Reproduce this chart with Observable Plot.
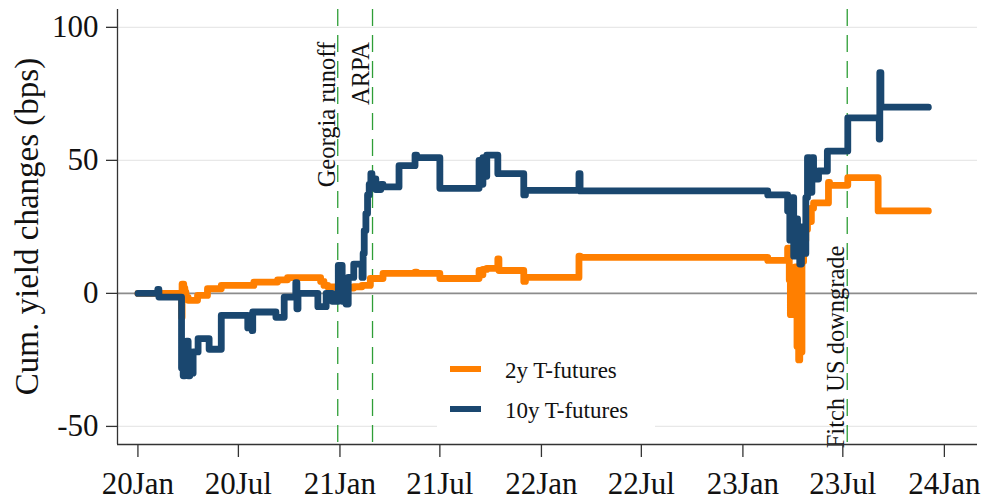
<!DOCTYPE html>
<html>
<head>
<meta charset="utf-8">
<script src="https://cdn.jsdelivr.net/npm/d3@7"></script>
<script src="https://cdn.jsdelivr.net/npm/@observablehq/plot@0.6"></script>
<style>
  html, body { margin: 0; padding: 0; background: #fff; }
  #wrap { position: relative; width: 983px; height: 500px; font-family: "Liberation Serif", serif; overflow: hidden; }
  #legend { position: absolute; left: 437px; top: 346px; width: 218px; height: 83px; background: #fff; }
  .sw { position: absolute; left: 13px; width: 31px; height: 6px; }
  .lt { position: absolute; left: 68px; font-size: 23px; line-height: 23px; color: #111; white-space: nowrap; }
  #ylabel { position: absolute; left: -173px; top: 210px; width: 400px; height: 33px; line-height: 33px;
            font-size: 33px; text-align: center; color: #111; transform: rotate(-90deg); white-space: nowrap; }
</style>
</head>
<body>
<div id="wrap"></div>
<script>
// ---- data ----
const seriesNames = ["2y T-futures", "10y T-futures"];
const seriesColors = ["#ff7f00", "#1a476f"];

const dates2y = [
  "2020-01-01","2020-03-20","2020-03-21","2020-03-24","2020-03-26","2020-03-28","2020-04-01","2020-04-18",
  "2020-05-06","2020-05-31","2020-07-29","2020-09-10","2020-09-28","2020-11-27","2020-12-03","2020-12-10",
  "2020-12-28","2021-01-15","2021-01-26","2021-02-10","2021-02-25","2021-03-20","2021-05-17","2021-05-20",
  "2021-07-01","2021-09-10","2021-09-14","2021-09-17","2021-09-24","2021-10-14","2021-10-16","2021-11-30",
  "2021-12-03","2022-03-10","2022-03-12","2023-02-15","2023-03-23","2023-03-26","2023-03-28","2023-03-31",
  "2023-04-03","2023-04-06","2023-04-09","2023-04-12","2023-04-14","2023-04-16","2023-04-18","2023-04-21",
  "2023-04-25","2023-04-28","2023-05-02","2023-05-05","2023-05-09","2023-06-05","2023-06-07","2023-07-10",
  "2023-09-03","2023-12-03"
];
const values2y = [
  0, -9, 3.5, 2, 0.5, -1.5, -2.6, -0.75,
  1.75, 3, 4.25, 5.1, 5.9, 4.5, 3, 2.4,
  1.1, 2, 2.5, 3, 5.6, 7.5, 8, 7.5,
  5.6, 8.6, 7, 9, 9.4, 13, 8.6, 4.5,
  6, 14, 13.5, 12.4, 17, 5, -8, 8,
  -5, 10, -20, -25, 0, -22, 12, 20,
  24, 30, 27, 32, 34, 41.7, 40.6, 43.5,
  31, 31
];

const dates10y = [
  "2020-01-01","2020-02-06","2020-02-08","2020-03-20","2020-03-21","2020-03-23","2020-03-26","2020-03-29",
  "2020-04-01","2020-04-04","2020-04-07","2020-04-10","2020-04-19","2020-05-09","2020-05-31","2020-07-18",
  "2020-07-22","2020-07-26","2020-07-27","2020-09-07","2020-09-22","2020-10-13","2020-10-15","2020-10-17",
  "2020-11-22","2020-12-07","2020-12-18","2020-12-29","2021-01-05","2021-01-12","2021-01-16","2021-01-26",
  "2021-02-10","2021-02-12","2021-02-14","2021-02-17","2021-02-20","2021-02-23","2021-02-26","2021-02-28",
  "2021-03-07","2021-03-16","2021-03-20","2021-04-18","2021-05-17","2021-05-20","2021-07-01","2021-09-10",
  "2021-09-13","2021-09-17","2021-09-20","2021-09-24","2021-10-14","2021-11-30","2021-12-03","2022-03-10",
  "2022-03-12","2023-02-15","2023-03-23","2023-03-27","2023-03-31","2023-04-03","2023-04-07","2023-04-10",
  "2023-04-14","2023-04-17","2023-04-21","2023-04-25","2023-04-28","2023-05-02","2023-05-06","2023-05-09",
  "2023-05-18","2023-06-03","2023-07-10","2023-09-05","2023-09-06","2023-09-08","2023-12-03"
];
const values10y = [
  0, 1.5, -1.4, -28, -20, -31, -24, -18,
  -31, -25, -30, -22, -17, -21, -8.3, -13,
  -10, -14, -7, -9, -1.4, 4, -5.8, 0,
  -5, 0, -3, 10.5, -3, -4, 6, 11,
  6, 15, 23.6, 30, 37, 41, 45, 43,
  39, 41, 40, 48, 52, 51, 39.5, 50,
  41, 51, 44, 52, 45, 37, 38.7, 45,
  38.5, 37, 31, 20, 36, 14, 28, 20,
  11, 25, 15, 36, 51, 38, 51, 43,
  46, 53.5, 66, 58, 83, 70, 70
];

const eventNames = ["Georgia runoff", "ARPA", "Fitch US downgrade"];
const eventDates = ["2020-12-28", "2021-03-01", "2023-07-09"];
const eventLabelY = [94.5, 94.5, 18];

const xTickDates = ["2020-01-01","2020-07-01","2021-01-01","2021-07-01","2022-01-01","2022-07-01","2023-01-01","2023-07-01","2024-01-01"];
const xTickLabels = ["20Jan","20Jul","21Jan","21Jul","22Jan","22Jul","23Jan","23Jul","24Jan"];
const yTicks = [-50, 0, 50, 100];
const yTickLabels = ["-50", "0", "50", "100"];
const yGrid = [-50, 50, 100];
const yLabel = "Cum. yield changes (bps)";

// ---- build tables ----
const parse = s => new Date(s + "T00:00:00Z");
const rows2y = dates2y.map((d, i) => ({date: parse(d), value: values2y[i]}));
const rows10y = dates10y.map((d, i) => ({date: parse(d), value: values10y[i]}));
const events = eventNames.map((n, i) => ({name: n, date: parse(eventDates[i]), y: eventLabelY[i]}));
const xTicks = xTickDates.map(parse);
const xLab = new Map(xTicks.map((d, i) => [+d, xTickLabels[i]]));
const yLab = new Map(yTicks.map((d, i) => [d, yTickLabels[i]]));

const xDomain = [parse("2019-11-25"), parse("2024-03-01")];
const yDomain = [-56.8, 106.7];

const chart = Plot.plot({
  width: 983,
  height: 500,
  marginTop: 9,
  marginBottom: 56,
  marginLeft: 117,
  marginRight: 6,
  style: {fontFamily: "Liberation Serif", background: "#fff", color: "#111"},
  x: {type: "utc", domain: xDomain},
  y: {domain: yDomain},
  marks: [
    Plot.ruleY(yGrid, {stroke: "#e8e8e8", strokeWidth: 1.3}),
    Plot.ruleY([0], {stroke: "#8c8c8c", strokeWidth: 1.6}),
    Plot.ruleX(events, {x: "date", stroke: "#2e9e36", strokeWidth: 1.3, strokeDasharray: "17,9"}),
    Plot.line(rows2y, {x: "date", y: "value", curve: "step-after", stroke: seriesColors[0], strokeWidth: 6.8, strokeLinecap: "round", strokeLinejoin: "round"}),
    Plot.line(rows10y, {x: "date", y: "value", curve: "step-after", stroke: seriesColors[1], strokeWidth: 6.8, strokeLinecap: "round", strokeLinejoin: "round"}),
    Plot.text(events, {x: "date", y: "y", text: "name", rotate: -90, textAnchor: "end", lineAnchor: "middle", dx: -11, fontSize: 24.5, fill: "#111"}),
    Plot.ruleX([xDomain[0]], {y1: yDomain[0], y2: yDomain[1], stroke: "#333", strokeWidth: 1.3}),
    Plot.ruleY([yDomain[0]], {x1: xDomain[0], x2: xDomain[1], stroke: "#333", strokeWidth: 1.3}),
    Plot.axisX({ticks: xTicks, tickFormat: d => xLab.get(+d), tickSize: 13, tickPadding: 14, fontSize: 31, label: null, stroke: "#333", strokeWidth: 1.3, fill: "#111"}),
    Plot.axisY({ticks: yTicks, tickFormat: d => yLab.get(d), tickSize: 11, tickPadding: 8, fontSize: 31, label: null, stroke: "#333", strokeWidth: 1.3, fill: "#111"})
  ]
});

const wrap = document.getElementById("wrap");
wrap.appendChild(chart);

const yl = document.createElement("div");
yl.id = "ylabel";
yl.textContent = yLabel;
wrap.appendChild(yl);

const legend = document.createElement("div");
legend.id = "legend";
legend.innerHTML =
  `<div class="sw" style="top:20px;background:${seriesColors[0]}"></div>` +
  `<div class="lt" style="top:13px">${seriesNames[0]}</div>` +
  `<div class="sw" style="top:60px;background:${seriesColors[1]}"></div>` +
  `<div class="lt" style="top:53px">${seriesNames[1]}</div>`;
wrap.appendChild(legend);
</script>
</body>
</html>
